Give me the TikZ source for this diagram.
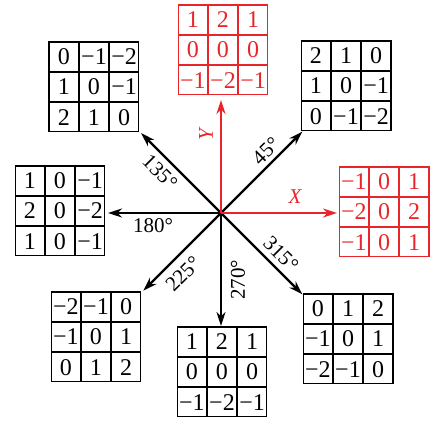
\documentclass[tikz,border=0pt]{standalone}
\usepackage{fontspec}
\setmainfont{Liberation Serif}
\usetikzlibrary{matrix,arrows.meta,calc}
\definecolor{myred}{RGB}{232,37,42}
\begin{document}
\begin{tikzpicture}[x=1pt,y=1pt,
  kmat/.style={matrix of nodes, column sep=-\pgflinewidth, row sep=-\pgflinewidth,
    nodes={draw, line width=1.1pt, minimum size=29.5pt, inner sep=0pt, anchor=center,
      font=\fontsize{24}{24}\selectfont}},
  dirarrow/.style={line width=2.2pt, -{Stealth[length=14pt,width=9pt]}},
  anglab/.style={font=\fontsize{21}{21}\selectfont, inner sep=0pt},
  axlab/.style={font=\fontsize{21}{21}\selectfont\itshape, text=myred, inner sep=0pt}]
\useasboundingbox (0,0) rectangle (432,423);
\coordinate (o) at (221,210);
% matrices
\matrix (m90) [kmat, nodes={draw=myred, text=myred}] at (223,373) {1 & 2 & 1\\ 0 & 0 & 0\\ −1 & −2 & −1\\};
\matrix (m135) [kmat] at (94,336) {0 & −1 & −2\\ 1 & 0 & −1\\ 2 & 1 & 0\\};
\matrix (m45) [kmat] at (346,337) {2 & 1 & 0\\ 1 & 0 & −1\\ 0 & −1 & −2\\};
\matrix (m180) [kmat] at (60,212) {1 & 0 & −1\\ 2 & 0 & −2\\ 1 & 0 & −1\\};
\matrix (m0) [kmat, nodes={draw=myred, text=myred}] at (384,211) {−1 & 0 & 1\\ −2 & 0 & 2\\ −1 & 0 & 1\\};
\matrix (m225) [kmat] at (96,86) {−2 & −1 & 0\\ −1 & 0 & 1\\ 0 & 1 & 2\\};
\matrix (m270) [kmat] at (222,51) {1 & 2 & 1\\ 0 & 0 & 0\\ −1 & −2 & −1\\};
\matrix (m315) [kmat] at (348,84) {0 & 1 & 2\\ −1 & 0 & 1\\ −2 & −1 & 0\\};
% arrow tips
\coordinate (t45) at ($(o)+(45:115)$);
\coordinate (t135) at ($(o)+(135:113)$);
\coordinate (t180) at ($(o)+(180:113)$);
\coordinate (t225) at ($(o)+(225:110)$);
\coordinate (t270) at ($(o)+(270:113)$);
\coordinate (t315) at ($(o)+(315:115)$);
\coordinate (tx) at ($(o)+(0:116)$);
\coordinate (ty) at ($(o)+(90:113)$);
\draw[dirarrow] (o) -- (t45);
\draw[dirarrow] (o) -- (t135);
\draw[dirarrow] (o) -- (t180);
\draw[dirarrow] (o) -- (t225);
\draw[dirarrow] (o) -- (t270);
\draw[dirarrow] (o) -- (t315);
\draw[dirarrow, myred] (o) -- (tx);
\draw[dirarrow, myred] (o) -- (ty);
% labels
\node[anglab, rotate=-45] (l135) at (160,251) {135°};
\node[anglab, rotate=45] (l45) at (266,272) {45°};
\node[anglab] (l180) at (153,197) {180°};
\node[anglab, rotate=45] (l225) at (183,149) {225°};
\node[anglab, rotate=90] (l270) at (238,143) {270°};
\node[anglab, rotate=-45] (l315) at (281,169) {315°};
\node[axlab] (lx) at (295,226) {X};
\node[axlab, rotate=90] (ly) at (206,288) {Y};
\end{tikzpicture}
\end{document}
